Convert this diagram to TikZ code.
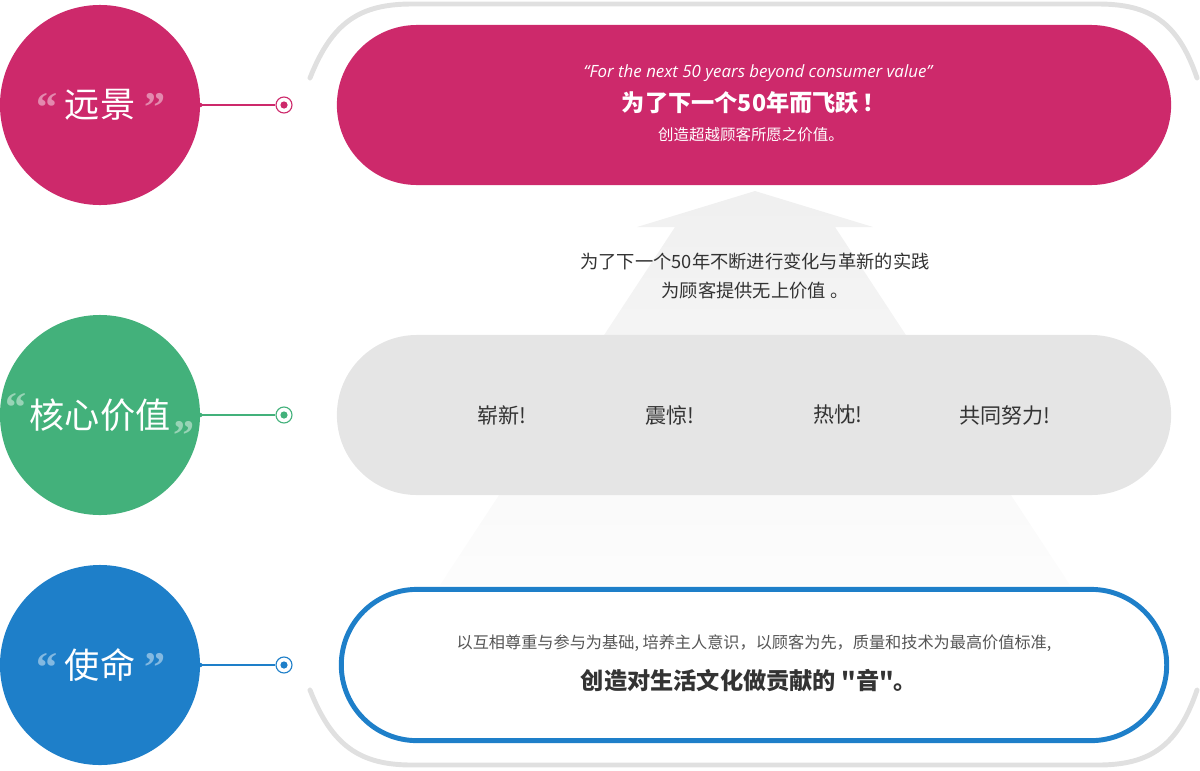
\documentclass[tikz,border=0pt]{standalone}
\usepackage{fontspec}
\setmainfont{Open Sans}
\newfontfamily\cjk{Noto Sans CJK SC}
\newfontfamily\quotefont{Liberation Serif}
\usetikzlibrary{positioning}
\definecolor{visionpink}{RGB}{205,41,107}
\definecolor{valuegreen}{RGB}{67,177,123}
\definecolor{missionblue}{RGB}{30,127,201}
\definecolor{pillgray}{RGB}{229,229,229}
\definecolor{framegray}{RGB}{224,224,224}
\definecolor{textdark}{RGB}{51,51,51}
\definecolor{textmid}{RGB}{85,85,85}

\begin{document}
\begin{tikzpicture}[x=0.025cm, y=-0.025cm,
    badge/.style={circle, minimum size=5cm, inner sep=0pt, text=white, font=\cjk\fontsize{25}{30}\selectfont},
    pill/.style={rounded corners=2cm, minimum width=20.85cm, minimum height=4cm, inner sep=0pt},
    ring/.style={circle, draw, fill=white, line width=0.8pt, minimum size=0.4cm, inner sep=0pt},
    link/.style={line width=0.8pt},
    quotemark/.style={font=\quotefont\bfseries\fontsize{30}{30}\selectfont, inner sep=0pt, anchor=north},
    word/.style={font=\cjk\fontsize{15}{17}\selectfont, text=textdark}
  ]
  \useasboundingbox (0,0) rectangle (1200,770);

  % outer frame
  \draw[framegray, line width=3.5pt, line cap=round]
    (310,78) .. controls (332,22) and (360,4) .. (412,4) -- (1098,4)
    .. controls (1150,4) and (1178,22) .. (1197,78);
  \draw[framegray, line width=3.5pt, line cap=round]
    (310,690) .. controls (332,746) and (360,765) .. (412,765) -- (1098,765)
    .. controls (1150,765) and (1178,746) .. (1197,690);

  % big arrow
  \shade[top color=black!6, bottom color=black!1]
    (755,191) -- (873,227) -- (835,227) -- (1070,585) -- (440,585) -- (675,227) -- (637,227) -- cycle;

  % pills
  \node[pill, fill=visionpink] (vision pill) at (754,105) {};
  \node[pill, fill=pillgray] (value pill) at (754,415) {};
  \node[pill, draw=missionblue, fill=white, line width=3.5pt, rounded corners=1.89cm,
        minimum width=20.63cm, minimum height=3.78cm] (mission pill) at (754,665) {};

  \node[font=\itshape\fontsize{12}{14}\selectfont, text=white] (vision en) at (758,73)
    {“For the next 50 years beyond consumer value”};
  \node[font=\cjk\bfseries\fontsize{16.5}{20}\selectfont, text=white] (vision title) at (754,103)
    {为了下一个50年而飞跃\,！};
  \node[font=\cjk\fontsize{11}{14}\selectfont, text=white] (vision sub) at (751,135)
    {创造超越顾客所愿之价值。};

  \node[font=\cjk\fontsize{13}{20}\selectfont, text=textdark, align=center] (arrow text) at (755,276)
    {为了下一个50年不断进行变化与革新的实践\\为顾客提供无上价值 。};

  \node[word] (innovate) at (502,415) {崭新!};
  \node[word] (surprise) at (670,415) {震惊!};
  \node[word] (passion) at (838,415) {热忱!};
  \node[word] (together) at (1005,415) {共同努力!};

  \node[font=\cjk\fontsize{11.5}{14}\selectfont, text=textmid] (mission line) at (754,643)
    {以互相尊重与参与为基础, 培养主人意识，以顾客为先，质量和技术为最高价值标准,};
  \node[font=\cjk\bfseries\fontsize{16.5}{20}\selectfont, text=textdark] (mission title) at (749,681)
    {创造对生活文化做贡献的 "音"。};

  % badges
  \node[badge, fill=visionpink] (vision) at (100,105) {远景};
  \node[badge, fill=valuegreen] (value) at (100,415) {核心价值};
  \node[badge, fill=missionblue] (mission) at (100,665) {使命};

  \node[quotemark, text=visionpink!55!white] (vision lq) at (47,93) {“};
  \node[quotemark, text=visionpink!55!white] (vision rq) at (155,93) {”};
  \node[quotemark, text=valuegreen!55!white] (value lq) at (16,393) {“};
  \node[quotemark, text=valuegreen!55!white] (value rq) at (184,421) {”};
  \node[quotemark, text=missionblue!55!white] (mission lq) at (47,653) {“};
  \node[quotemark, text=missionblue!55!white] (mission rq) at (155,653) {”};

  % connectors
  \node[ring, draw=visionpink] (vision ring) at (284,105) {};
  \node[ring, draw=valuegreen] (value ring) at (284,415) {};
  \node[ring, draw=missionblue] (mission ring) at (284,665) {};
  \foreach \name/\col in {vision/visionpink, value/valuegreen, mission/missionblue} {
    \draw[link, \col] (\name.east) -- (\name\space ring.west);
    \fill[\col] (\name.east) circle (2.2);
    \fill[\col] (\name\space ring.center) circle (3.6);
  }
\end{tikzpicture}
\end{document}
